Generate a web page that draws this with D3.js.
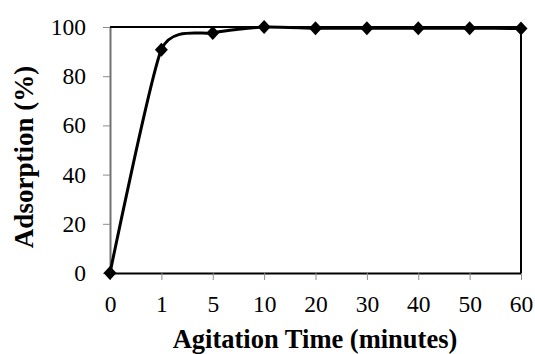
<!DOCTYPE html>
<html>
<head>
<meta charset="utf-8">
<script src="https://cdn.jsdelivr.net/npm/d3@7"></script>
<style>
  body { margin: 0; background: #fff; }
</style>
</head>
<body>
<svg id="chart" width="535" height="354"></svg>
<script>
// Data
const times = ["0", "1", "5", "10", "20", "30", "40", "50", "60"];
const adsorption = [0, 90.8, 97.6, 100, 99.5, 99.5, 99.5, 99.5, 99.4];
const yTicks = [0, 20, 40, 60, 80, 100];

const serif = "'Liberation Serif', 'Times New Roman', serif";
const margin = { top: 27, right: 14, bottom: 81, left: 110 };
const width = 535 - margin.left - margin.right;
const height = 354 - margin.top - margin.bottom;

const svg = d3.select("#chart");
const g = svg.append("g").attr("transform", `translate(${margin.left},${margin.top})`);

const x = d3.scalePoint().domain(times).range([0, width]);
const y = d3.scaleLinear().domain([0, 100]).range([height, 0]);

// Y axis (gray)
const yAxis = g.append("g")
  .call(d3.axisLeft(y).tickValues(yTicks).tickSize(7).tickSizeOuter(0).tickPadding(17));
yAxis.attr("font-family", null).attr("font-size", null);
yAxis.selectAll("line").attr("stroke", "#8c8c8c");
yAxis.select(".domain").attr("stroke", "#707070").attr("stroke-width", 2);
yAxis.selectAll("text")
  .attr("font-family", serif)
  .attr("font-size", 23.5)
  .attr("fill", "#000");

// X axis
const xAxis = g.append("g")
  .attr("transform", `translate(0,${height})`)
  .call(d3.axisBottom(x).tickSize(7).tickPadding(15).tickSizeOuter(0));
xAxis.attr("font-family", null).attr("font-size", null);
xAxis.selectAll("line").attr("stroke", "#8c8c8c");
xAxis.select(".domain").attr("stroke", "#000").attr("stroke-width", 2);
xAxis.selectAll("text")
  .attr("font-family", serif)
  .attr("font-size", 23.5)
  .attr("fill", "#000");

// Plot border top/right
g.append("path")
  .attr("d", `M0,0H${width}V${height}`)
  .attr("fill", "none")
  .attr("stroke", "#000")
  .attr("stroke-width", 2);

// Smoothed line (Excel-like smoothing)
const line = d3.line()
  .x((d, i) => x(times[i]))
  .y(d => y(d))
  .curve(d3.curveCardinal.tension(0.4));

g.append("path")
  .datum(adsorption)
  .attr("d", line)
  .attr("fill", "none")
  .attr("stroke", "#000")
  .attr("stroke-width", 3);

// Diamond markers
g.selectAll(".marker")
  .data(adsorption)
  .enter()
  .append("path")
  .attr("class", "marker")
  .attr("transform", (d, i) => `translate(${x(times[i])},${y(d)})`)
  .attr("d", "M0,-7L6.5,0L0,7L-6.5,0Z")
  .attr("fill", "#000");

// Axis titles
svg.append("text")
  .attr("x", 315)
  .attr("y", 348)
  .attr("text-anchor", "middle")
  .attr("font-family", serif)
  .attr("font-size", 26.5)
  .attr("font-weight", "bold")
  .text("Agitation Time (minutes)");

svg.append("text")
  .attr("transform", "translate(33,157) rotate(-90)")
  .attr("text-anchor", "middle")
  .attr("font-family", serif)
  .attr("font-size", 27)
  .attr("font-weight", "bold")
  .text("Adsorption (%)");
</script>
</body>
</html>
